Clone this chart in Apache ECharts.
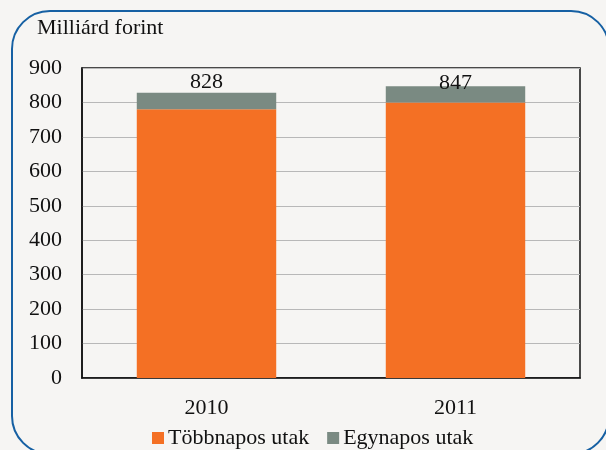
<!DOCTYPE html>
<html><head><meta charset="utf-8">
<script src="https://cdn.jsdelivr.net/npm/echarts@6/dist/echarts.min.js"></script>
<style>html,body{margin:0;padding:0;background:#f6f5f3;}#c{width:606px;height:450px;}</style>
</head><body><div id="c"></div>
<script>
const categories = ['2010', '2011'];
const tobbnapos = [780, 800];
const egynapos = [48, 47];
const totals = [828, 847];
const yTicks = [0, 100, 200, 300, 400, 500, 600, 700, 800, 900];
const unitLabel = 'Milliárd forint';

const font = '"Liberation Serif", "DejaVu Serif", serif';
const chart = echarts.init(document.getElementById('c'), null, {renderer: 'canvas'});
chart.setOption({
  backgroundColor: '#f6f5f3',
  animation: false,
  graphic: [
    {type: 'rect', shape: {x: 12, y: 11, width: 597, height: 443, r: 38},
     style: {fill: 'none', stroke: '#1660a3', lineWidth: 2}, z: 10},
    {type: 'text', left: 37, top: 17, style: {text: unitLabel, font: '22px ' + font, fill: '#111'}}
  ],
  grid: {left: 82, right: 26, top: 68, bottom: 72, show: true, borderColor: '#111', borderWidth: 1.5, backgroundColor: 'transparent'},
  legend: {
    left: 147, top: 422, itemWidth: 12, itemHeight: 12, itemGap: 18,
    icon: 'rect',
    textStyle: {fontFamily: font, fontSize: 22, color: '#111', padding: [0, 0, 0, -1]},
    data: ['Többnapos utak', 'Egynapos utak']
  },
  xAxis: {
    type: 'category', data: categories,
    axisLine: {show: true, lineStyle: {color: '#111', width: 1.5}},
    axisTick: {show: false},
    axisLabel: {fontFamily: font, fontSize: 22, color: '#111', margin: 19}
  },
  yAxis: {
    type: 'value', min: yTicks[0], max: yTicks[yTicks.length - 1], interval: 100,
    axisLine: {show: true, lineStyle: {color: '#111', width: 1.5}},
    axisTick: {show: false},
    axisLabel: {fontFamily: font, fontSize: 22, color: '#111', margin: 20},
    splitLine: {lineStyle: {color: '#b8b8b8', width: 1}}
  },
  series: [
    {name: 'Többnapos utak', type: 'bar', stack: 't', data: tobbnapos, barWidth: '56%',
     itemStyle: {color: '#f47024'}},
    {name: 'Egynapos utak', type: 'bar', stack: 't', barWidth: '56%',
     itemStyle: {color: '#7a8a82'},
     data: egynapos.map((v, i) => ({
       value: v,
       label: {show: true, position: 'top', distance: i === 0 ? 0 : -8,
               formatter: () => String(totals[i]), fontFamily: font, fontSize: 22, color: '#111'}
     }))}
  ]
});
</script></body></html>
